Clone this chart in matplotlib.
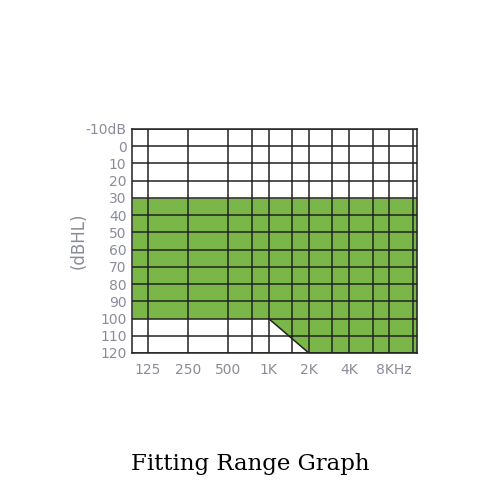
import matplotlib.pyplot as plt
from matplotlib.ticker import FixedLocator, NullFormatter
import matplotlib.transforms as mtransforms

# audiogram frequencies (Hz) and their labels
label_freqs = [125, 250, 500, 1000, 2000, 4000, 8000]
label_names = ['125', '250', '500', '1K', '2K', '4K', '8KHz']
half_octaves = [750, 1500, 3000, 6000, 12000]

# hearing levels (dB HL)
levels = [-10, 0, 10, 20, 30, 40, 50, 60, 70, 80, 90, 100, 110, 120]
level_names = ['-10dB'] + [str(v) for v in levels[1:]]

# fitting range: top edge and bottom edge across frequency
range_freqs = [95, 1000, 2000, 12900]
range_top = [30, 30, 30, 30]
range_bottom = [100, 100, 120, 120]

label_grey = '#8a8c9a'

fig = plt.figure(figsize=(5, 5), dpi=100)
ax = fig.add_axes([0.264, 0.294, 0.57, 0.448])

ax.fill_between(range_freqs, range_top, range_bottom, color='#7ab648', linewidth=0)
ax.plot(range_freqs[1:3], range_bottom[1:3], color='#222222', linewidth=1.1)

ax.set_xscale('log')
ax.set_xlim(range_freqs[0], range_freqs[-1])
ax.set_ylim(120, -10)

ax.xaxis.set_major_locator(FixedLocator(label_freqs))
ax.xaxis.set_minor_locator(FixedLocator(half_octaves))
ax.xaxis.set_minor_formatter(NullFormatter())
ax.set_xticklabels(label_names)
ax.set_yticks(levels)
ax.set_yticklabels(level_names)

ax.grid(True, which='both', color='#222222', linewidth=1.1)
ax.tick_params(which='both', length=0, labelsize=10, labelcolor=label_grey)
ax.tick_params(axis='x', pad=7)
ax.tick_params(axis='y', pad=4)

# nudge the last label a bit right like the original
last = ax.get_xticklabels()[-1]
last.set_transform(last.get_transform() + mtransforms.ScaledTranslation(5 / 100, 0, fig.dpi_scale_trans))

for s in ax.spines.values():
    s.set_color('#222222')
    s.set_linewidth(1.1)

ax.set_ylabel('(dBHL)', fontsize=12, color=label_grey)
ax.yaxis.set_label_coords(-0.155, 0.5)

fig.text(0.5, 0.072, 'Fitting Range Graph', ha='center', va='center',
         fontsize=16.5, family='DejaVu Serif', color='black')

fig.savefig('out.png')
